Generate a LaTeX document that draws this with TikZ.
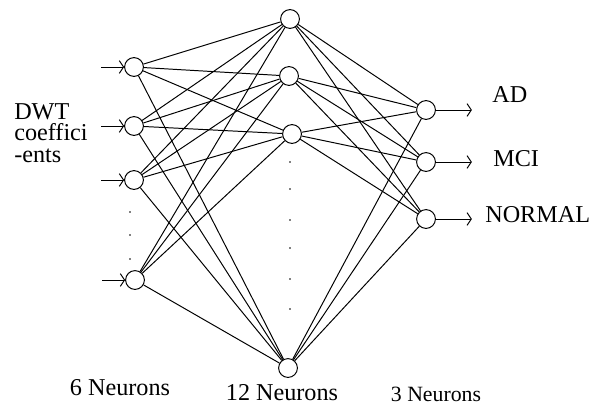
\documentclass[tikz,border=0pt]{standalone}
\usepackage{fontspec}
\setmainfont{Liberation Serif}
\usetikzlibrary{arrows.meta, calc}
\tikzset{%
    neu/.style={circle, draw, line width=0.7pt, minimum size=0.47cm, inner sep=0pt},
    sec/.style={line width=0.7pt},
    seca/.style={line width=0.7pt, -{Straight Barb[length=3pt, width=9pt]}},
    lab/.style={font=\fontsize{17.2}{15.5}\selectfont, inner sep=0pt},
    labs/.style={font=\fontsize{15.5}{15}\selectfont, inner sep=0pt},
}

\begin{document}
\begin{tikzpicture}[x=0.025cm, y=-0.025cm]
    \useasboundingbox (0,0) rectangle (603,407);
    \draw node[neu] (in1) at (134,67) {};
    \draw node[neu] (in2) at (134,126) {};
    \draw node[neu] (in3) at (134,180) {};
    \draw node[neu] (in4) at (135,280) {};
    \draw node[neu] (hd1) at (290,19) {};
    \draw node[neu] (hd2) at (289,76) {};
    \draw node[neu] (hd3) at (292,134) {};
    \draw node[neu] (hd4) at (288,368) {};
    \draw node[neu] (ot1) at (426,110) {};
    \draw node[neu] (ot2) at (426,162) {};
    \draw node[neu] (ot3) at (426,219) {};
    \foreach \i in {1,...,4}
        \foreach \j in {1,...,4}
            \draw [sec] (in\i) -- (hd\j);
    \foreach \j in {1,...,4}
        \foreach \k in {1,2,3}
            \draw [sec] (hd\j) -- (ot\k);
    \foreach \i in {1,...,4} {
        \coordinate (src\i) at ($(in\i.west)+(-23,0)$);
        \draw [seca] (src\i) -- (in\i.west);
    }
    \foreach \k in {1,2,3} {
        \coordinate (dst\k) at ($(ot\k.east)+(36,0)$);
        \draw [seca] (ot\k.east) -- (dst\k);
    }
    \foreach \y in {212,235,259}
        \fill (130,\y) circle (0.7pt);
    \foreach \y in {162,189,220,248,279,309}
        \fill (290,\y) circle (0.7pt);
    \draw node[lab, align=left, anchor=west] (inp) at (14,133) {DWT\\coeffici\\-ents};
    \draw node[lab, anchor=west] (cad) at (492,95) {AD};
    \draw node[lab, anchor=west] (cmci) at (493,159) {MCI};
    \draw node[lab, anchor=west] (cnor) at (485,215) {NORMAL};
    \draw node[lab] (nin) at (120,388) {6 Neurons};
    \draw node[lab] (nhd) at (282,393) {12 Neurons};
    \draw node[labs] (nout) at (436,394) {3 Neurons};
\end{tikzpicture}
\end{document}
